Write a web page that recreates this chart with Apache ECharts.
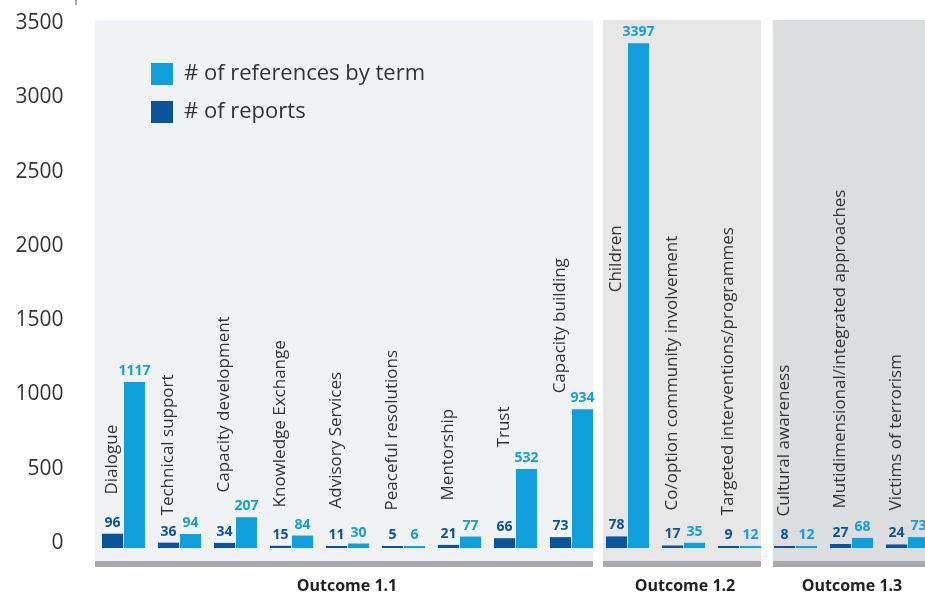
<!DOCTYPE html>
<html>
<head>
<meta charset="utf-8">
<script src="https://cdn.jsdelivr.net/npm/echarts@6/dist/echarts.min.js"></script>
<style>
  html, body { margin: 0; padding: 0; background: #fff; }
  #main { width: 925px; height: 595px; }
</style>
</head>
<body>
<div id="main"></div>
<script>
// data
var terms = ['Dialogue', 'Technical support', 'Capacity development', 'Knowledge Exchange',
  'Advisory Services', 'Peaceful resolutions', 'Mentorship', 'Trust', 'Capacity building',
  'Children', 'Co/option community involvement', 'Targeted interventions/programmes',
  'Cultural awareness', 'Mutidimensional/integrated approaches', 'Victims of terrorism'];
var reports = [96, 36, 34, 15, 11, 5, 21, 66, 73, 78, 17, 9, 8, 27, 24];
var references = [1117, 94, 207, 84, 30, 6, 77, 532, 934, 3397, 35, 12, 12, 68, 73];
var outcomes = ['Outcome 1.1', 'Outcome 1.2', 'Outcome 1.3'];
var outcomeFirst = [0, 9, 12];
var outcomeLast = [8, 11, 14];
var yMax = 3500, yStep = 500;

// layout: where each rotated term label starts (axis units), group paddings
var nameStart = [360, 219, 374, 273, 266, 253, 320, 677, 1041, 1721, 253, 219, 212, 266, 253];
var groupPad = [7, 3, 1];
var groupFill = ['#f1f2f4', '#e7e7e8', '#dcdddf'];

var FONT = '"Open Sans", "Noto Sans", sans-serif';
var DARK = '#0b5499', LIGHT = '#109fda';
var BAR_W = 21, BAR_GAP = 1;

var chart = echarts.init(document.getElementById('main'));

var option = {
  animation: false,
  backgroundColor: '#fff',
  grid: { left: 95.5, top: 28, bottom: 47, width: 840, outerBoundsMode: 'none' },
  legend: {
    data: ['# of references by term', '# of reports'],
    orient: 'vertical',
    left: 151, top: 63,
    padding: 0,
    itemWidth: 22, itemHeight: 22, itemGap: 16,
    icon: 'rect',
    selectedMode: false,
    textStyle: { fontFamily: FONT, fontSize: 22, color: '#333', padding: [0, 0, 0, 6] }
  },
  xAxis: {
    type: 'category',
    data: terms,
    show: false
  },
  yAxis: {
    type: 'value',
    min: 0, max: yMax, interval: yStep,
    axisLine: { show: false },
    axisTick: { show: false },
    splitLine: { show: false },
    axisLabel: {
      fontFamily: FONT, fontSize: 21, color: '#333', margin: 32,
      verticalAlign: 'bottom', lineHeight: 10,
      formatter: function (v) { return String(v); }
    }
  },
  series: [
    {
      name: '# of reports',
      type: 'bar',
      data: reports,
      barWidth: BAR_W,
      barGap: (BAR_GAP / BAR_W * 100) + '%',
      barMinHeight: 2,
      itemStyle: { color: DARK },
      label: { show: true, position: 'top', distance: 4, color: DARK,
        fontFamily: FONT, fontWeight: 'bold', fontSize: 14 }
    },
    {
      name: '# of references by term',
      type: 'bar',
      data: references,
      barWidth: BAR_W,
      barMinHeight: 2,
      itemStyle: { color: LIGHT },
      label: { show: true, position: 'top', distance: 4, color: LIGHT,
        fontFamily: FONT, fontWeight: 'bold', fontSize: 14 }
    },
    {
      type: 'custom',
      silent: true,
      data: terms.map(function (t, i) { return [i, nameStart[i]]; }),
      renderItem: function (params, api) {
        var p = api.coord([api.value(0), api.value(1)]);
        return {
          type: 'text',
          x: p[0] - (BAR_W + BAR_GAP) / 2,
          y: p[1],
          rotation: Math.PI / 2,
          style: {
            text: terms[params.dataIndex],
            fill: '#333',
            font: '17px ' + FONT,
            align: 'left',
            verticalAlign: 'middle'
          }
        };
      }
    }
  ]
};
chart.setOption(option);

// outcome backgrounds, base bars and titles
var y0 = chart.convertToPixel({ yAxisIndex: 0 }, 0);
var yTop = chart.convertToPixel({ yAxisIndex: 0 }, yMax);
var graphics = [{
  type: 'line', z: -10,
  shape: { x1: 76, y1: 0, x2: 76, y2: 5 },
  style: { stroke: '#555', lineWidth: 1 }
}];
outcomes.forEach(function (name, g) {
  var c1 = chart.convertToPixel({ xAxisIndex: 0 }, outcomeFirst[g]);
  var c2 = chart.convertToPixel({ xAxisIndex: 0 }, outcomeLast[g]);
  var left = c1 - BAR_GAP / 2 - BAR_W - groupPad[g];
  var right = c2 + BAR_GAP / 2 + BAR_W;
  graphics.push({
    type: 'rect', z: -10,
    shape: { x: left, y: yTop - 8, width: right - left, height: y0 + 13 - (yTop - 8) },
    style: { fill: groupFill[g] }
  });
  graphics.push({
    type: 'rect', z: -9,
    shape: { x: left, y: y0 + 13, width: right - left, height: 6 },
    style: { fill: '#a9aaad' }
  });
  graphics.push({
    type: 'text', z: -9,
    x: (left + Math.min(right, 925)) / 2 + 3, y: y0 + 38,
    style: { text: name, fill: '#222', font: 'bold 16px ' + FONT,
      align: 'center', verticalAlign: 'middle' }
  });
});
chart.setOption({ graphic: graphics });
</script>
</body>
</html>
